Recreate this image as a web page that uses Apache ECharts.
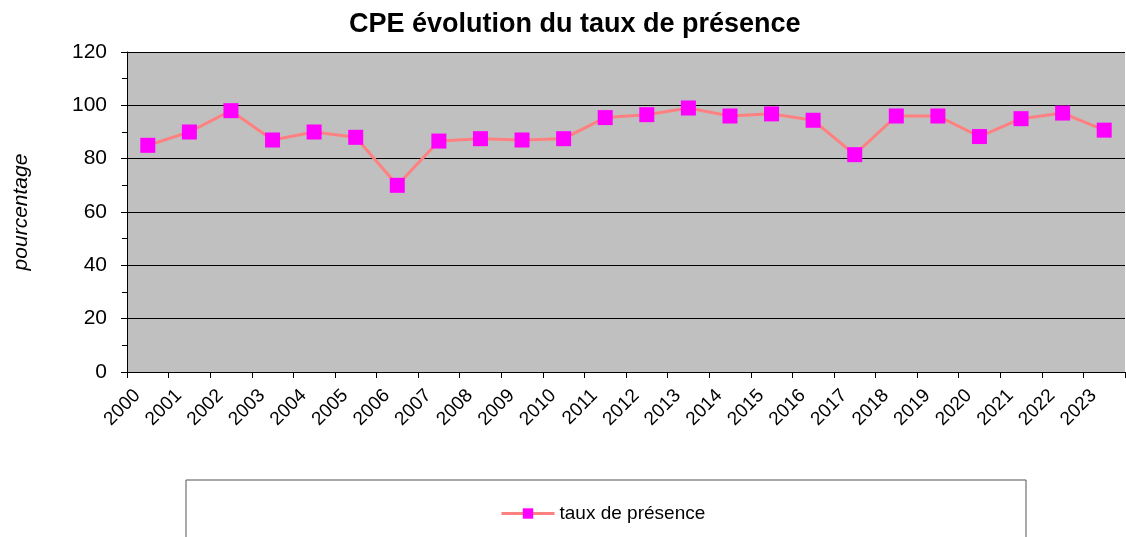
<!DOCTYPE html>
<html>
<head>
<meta charset="utf-8">
<script src="https://cdn.jsdelivr.net/npm/echarts@6/dist/echarts.min.js"></script>
<style>
  html, body { margin: 0; padding: 0; background: #fff; }
  #chart { width: 1126px; height: 537px; }
</style>
</head>
<body>
<div id="chart"></div>
<script>
const years = ["2000", "2001", "2002", "2003", "2004", "2005", "2006", "2007", "2008", "2009", "2010", "2011",
  "2012", "2013", "2014", "2015", "2016", "2017", "2018", "2019", "2020", "2021", "2022", "2023"];
const presence = [85, 90, 98, 87, 90, 88, 70, 86.6, 87.5, 87, 87.5, 95.4,
  96.5, 99, 96, 96.8, 94.4, 81.5, 96, 96, 88.3, 95, 97.1, 90.7];

const chart = echarts.init(document.getElementById("chart"));
chart.setOption({
  animation: false,
  textStyle: { fontFamily: "Liberation Sans, Arial, sans-serif" },
  title: {
    text: "CPE évolution du taux de présence",
    left: 344,
    top: 6,
    textStyle: { fontSize: 27, fontWeight: "bold", color: "#000" }
  },
  graphic: [
    {
      type: "rect",
      shape: { x: 186, y: 480, width: 840, height: 70 },
      style: { fill: "#fff", stroke: "#555", lineWidth: 1 },
      z: -1
    }
  ],
  legend: {
    data: ["taux de présence"],
    top: 499,
    left: 495,
    itemWidth: 53,
    itemHeight: 13,
    itemGap: 6,
    lineStyle: { width: 3 },
    textStyle: { fontSize: 19, color: "#000" }
  },
  grid: {
    left: 127,
    right: 1,
    top: 52,
    bottom: 165,
    show: true,
    backgroundColor: "#c0c0c0",
    borderWidth: 0
  },
  xAxis: {
    type: "category",
    data: years,
    boundaryGap: true,
    axisLine: { lineStyle: { color: "#000", width: 1 } },
    axisTick: { show: true, length: 6, lineStyle: { color: "#000" } },
    axisLabel: { rotate: 45, fontSize: 19, color: "#000", margin: 10, interval: 0, padding: [0, 15, 0, 0] }
  },
  yAxis: {
    type: "value",
    min: 0,
    max: 120,
    interval: 20,
    name: "pourcentage",
    nameLocation: "middle",
    nameGap: 95,
    nameTextStyle: { fontSize: 21, fontStyle: "italic", color: "#000" },
    axisLine: { show: true, lineStyle: { color: "#000", width: 1 } },
    axisTick: { show: true, length: 6, lineStyle: { color: "#000" } },
    minorTick: { show: true, splitNumber: 2, length: 5, lineStyle: { color: "#000" } },
    axisLabel: { fontSize: 21, color: "#000", margin: 20 },
    splitLine: { show: true, lineStyle: { color: "#000", width: 1 } }
  },
  series: [
    {
      name: "taux de présence",
      type: "line",
      data: presence,
      symbol: "rect",
      symbolSize: 15,
      lineStyle: { color: "#ff8080", width: 3 },
      itemStyle: { color: "#ff00ff", borderWidth: 0 }
    }
  ]
});
</script>
</body>
</html>
